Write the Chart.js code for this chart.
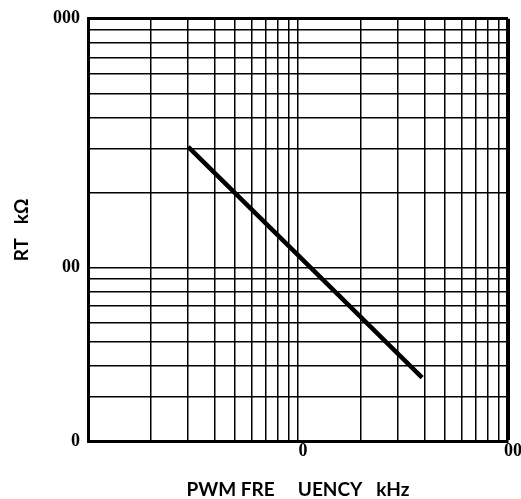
<!DOCTYPE html>
<html>
<head>
<meta charset="utf-8">
<script src="https://cdn.jsdelivr.net/npm/chart.js@4/dist/chart.umd.min.js"></script>
<style>
  html, body { margin: 0; padding: 0; background: #fff; }
  #wrap { width: 521px; height: 499px; }
</style>
</head>
<body>
<div id="wrap"><canvas id="c" width="521" height="499"></canvas></div>
<script>
// Curve: PWM frequency (kHz) vs RT (kΩ)
const freqKHz = [3, 10, 39];
const rtKOhm = [305, 112, 36];

// Grid lines (log decades) and the tick labels as they appear
const xGridValues = [1,2,3,4,5,6,7,8,9,10,20,30,40,50,60,70,80,90,100];
const yGridValues = [20,30,40,50,60,70,80,90,100,200,300,400,500,600,700,800,900,1000];
const xTickValues = [10, 100];
const xTickText = ['0', '00'];
const yTickValues = [20, 100, 1000];
const yTickText = ['0', '00', '000'];

const xTitle = 'PWM FRE     UENCY   kHz';
const yTitle = 'RT   kΩ';

function labelFor(values, texts, v) {
  const i = values.findIndex(t => Math.abs(t - v) < 1e-9);
  return i >= 0 ? texts[i] : '';
}

new Chart(document.getElementById('c'), {
  type: 'scatter',
  data: {
    datasets: [{
      data: freqKHz.map((f, i) => ({ x: f, y: rtKOhm[i] })),
      showLine: true,
      borderColor: '#000',
      borderWidth: 4.5,
      pointRadius: 0,
      tension: 0
    }]
  },
  options: {
    responsive: false,
    animation: false,
    devicePixelRatio: 1,
    layout: { padding: { top: 16, right: 13, bottom: 0, left: 0 } },
    plugins: { legend: { display: false }, tooltip: { enabled: false } },
    scales: {
      x: {
        type: 'logarithmic',
        min: 1, max: 100,
        afterBuildTicks: s => { s.ticks = xGridValues.map(v => ({ value: v })); },
        afterFit: s => { s.height = 58; },
        grid: {
          color: '#000',
          lineWidth: ctx => (ctx.tick && ctx.tick.value === 100 ? 4 : 1.5),
          drawTicks: false
        },
        border: { display: true, color: '#000', width: 3 },
        ticks: {
          autoSkip: false, maxRotation: 0, padding: 0, labelOffset: 5,
          color: '#000',
          font: { family: 'Liberation Serif', size: 18, weight: 'bold' },
          callback: v => labelFor(xTickValues, xTickText, v)
        },
        title: {
          display: true, text: xTitle, color: '#000',
          font: { family: 'Lato', size: 19, weight: 'bold' },
          padding: { top: 0, bottom: -2 }
        }
      },
      y: {
        type: 'logarithmic',
        min: 20, max: 1000,
        afterBuildTicks: s => { s.ticks = yGridValues.map(v => ({ value: v })); },
        afterFit: s => { s.width = 88; },
        grid: {
          color: '#000',
          lineWidth: ctx => (ctx.tick && ctx.tick.value === 1000 ? 3 : 1.5),
          drawTicks: false
        },
        border: { display: true, color: '#000', width: 3 },
        ticks: {
          autoSkip: false, padding: 8,
          color: '#000',
          font: { family: 'Liberation Serif', size: 18, weight: 'bold' },
          callback: v => labelFor(yTickValues, yTickText, v)
        },
        title: {
          display: true, text: yTitle, color: '#000',
          font: { family: 'Lato', size: 19, weight: 'bold' },
          padding: { top: 10, bottom: 0 }
        }
      }
    }
  }
});
</script>
</body>
</html>
